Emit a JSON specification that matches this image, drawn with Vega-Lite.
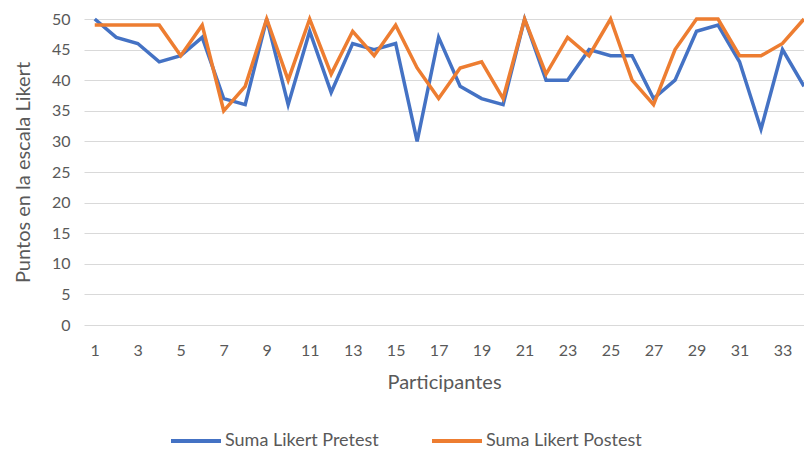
{
  "$schema": "https://vega.github.io/schema/vega-lite/v6.json",
  "width": 720,
  "height": 306,
  "autosize": {"type": "none"},
  "padding": {"left": 84, "top": 19, "right": 0, "bottom": 129},
  "background": "white",
  "config": {
    "view": {"stroke": null},
    "font": "Lato",
    "axis": {"labelFont": "Lato", "titleFont": "Lato", "labelColor": "#595959", "titleColor": "#595959", "labelFontSize": 16, "titleFontSize": 20, "titleFontWeight": "normal"}
  },
  "data": {"values": [
    {"p":1,"s":"Suma Likert Pretest","v":50},{"p":2,"s":"Suma Likert Pretest","v":47},{"p":3,"s":"Suma Likert Pretest","v":46},{"p":4,"s":"Suma Likert Pretest","v":43},{"p":5,"s":"Suma Likert Pretest","v":44},{"p":6,"s":"Suma Likert Pretest","v":47},{"p":7,"s":"Suma Likert Pretest","v":37},{"p":8,"s":"Suma Likert Pretest","v":36},{"p":9,"s":"Suma Likert Pretest","v":50},{"p":10,"s":"Suma Likert Pretest","v":36},{"p":11,"s":"Suma Likert Pretest","v":48},{"p":12,"s":"Suma Likert Pretest","v":38},{"p":13,"s":"Suma Likert Pretest","v":46},{"p":14,"s":"Suma Likert Pretest","v":45},{"p":15,"s":"Suma Likert Pretest","v":46},{"p":16,"s":"Suma Likert Pretest","v":30},{"p":17,"s":"Suma Likert Pretest","v":47},{"p":18,"s":"Suma Likert Pretest","v":39},{"p":19,"s":"Suma Likert Pretest","v":37},{"p":20,"s":"Suma Likert Pretest","v":36},{"p":21,"s":"Suma Likert Pretest","v":50},{"p":22,"s":"Suma Likert Pretest","v":40},{"p":23,"s":"Suma Likert Pretest","v":40},{"p":24,"s":"Suma Likert Pretest","v":45},{"p":25,"s":"Suma Likert Pretest","v":44},{"p":26,"s":"Suma Likert Pretest","v":44},{"p":27,"s":"Suma Likert Pretest","v":37},{"p":28,"s":"Suma Likert Pretest","v":40},{"p":29,"s":"Suma Likert Pretest","v":48},{"p":30,"s":"Suma Likert Pretest","v":49},{"p":31,"s":"Suma Likert Pretest","v":43},{"p":32,"s":"Suma Likert Pretest","v":32},{"p":33,"s":"Suma Likert Pretest","v":45},{"p":34,"s":"Suma Likert Pretest","v":39},
    {"p":1,"s":"Suma Likert Postest","v":49},{"p":2,"s":"Suma Likert Postest","v":49},{"p":3,"s":"Suma Likert Postest","v":49},{"p":4,"s":"Suma Likert Postest","v":49},{"p":5,"s":"Suma Likert Postest","v":44},{"p":6,"s":"Suma Likert Postest","v":49},{"p":7,"s":"Suma Likert Postest","v":35},{"p":8,"s":"Suma Likert Postest","v":39},{"p":9,"s":"Suma Likert Postest","v":50},{"p":10,"s":"Suma Likert Postest","v":40},{"p":11,"s":"Suma Likert Postest","v":50},{"p":12,"s":"Suma Likert Postest","v":41},{"p":13,"s":"Suma Likert Postest","v":48},{"p":14,"s":"Suma Likert Postest","v":44},{"p":15,"s":"Suma Likert Postest","v":49},{"p":16,"s":"Suma Likert Postest","v":42},{"p":17,"s":"Suma Likert Postest","v":37},{"p":18,"s":"Suma Likert Postest","v":42},{"p":19,"s":"Suma Likert Postest","v":43},{"p":20,"s":"Suma Likert Postest","v":37},{"p":21,"s":"Suma Likert Postest","v":50},{"p":22,"s":"Suma Likert Postest","v":41},{"p":23,"s":"Suma Likert Postest","v":47},{"p":24,"s":"Suma Likert Postest","v":44},{"p":25,"s":"Suma Likert Postest","v":50},{"p":26,"s":"Suma Likert Postest","v":40},{"p":27,"s":"Suma Likert Postest","v":36},{"p":28,"s":"Suma Likert Postest","v":45},{"p":29,"s":"Suma Likert Postest","v":50},{"p":30,"s":"Suma Likert Postest","v":50},{"p":31,"s":"Suma Likert Postest","v":44},{"p":32,"s":"Suma Likert Postest","v":44},{"p":33,"s":"Suma Likert Postest","v":46},{"p":34,"s":"Suma Likert Postest","v":50}
  ]},
  "mark": {"type": "line", "strokeWidth": 3.5, "strokeJoin": "miter", "clip": false},
  "encoding": {
    "x": {"field": "p", "type": "quantitative", "title": "Participantes",
      "scale": {"domain": [0.5, 34], "nice": false, "zero": false},
      "axis": {"values": [1,3,5,7,9,11,13,15,17,19,21,23,25,27,29,31,33], "grid": false, "domain": false, "ticks": false, "labelPadding": 17, "titlePadding": 14, "labelFlush": false}},
    "y": {"field": "v", "type": "quantitative", "title": "Puntos en la escala Likert",
      "scale": {"domain": [0, 50], "nice": false},
      "axis": {"values": [0,5,10,15,20,25,30,35,40,45,50], "grid": true, "gridColor": "#d9d9d9", "gridWidth": 1.2, "domain": false, "ticks": false, "labelPadding": 14, "titlePadding": 18}},
    "color": {"field": "s", "type": "nominal", "sort": ["Suma Likert Pretest", "Suma Likert Postest"],
      "scale": {"domain": ["Suma Likert Pretest", "Suma Likert Postest"], "range": ["#4472C4", "#ED7D31"]},
      "legend": {"title": null, "orient": "none", "legendX": 85, "legendY": 395, "direction": "horizontal", "symbolType": "stroke", "symbolSize": 2500, "symbolStrokeWidth": 4, "labelFontSize": 18, "labelColor": "#595959", "labelFont": "Lato", "columnPadding": 45, "labelOffset": 2, "labelLimit": 300}},
    "order": {"field": "p", "type": "quantitative"}
  }
}
